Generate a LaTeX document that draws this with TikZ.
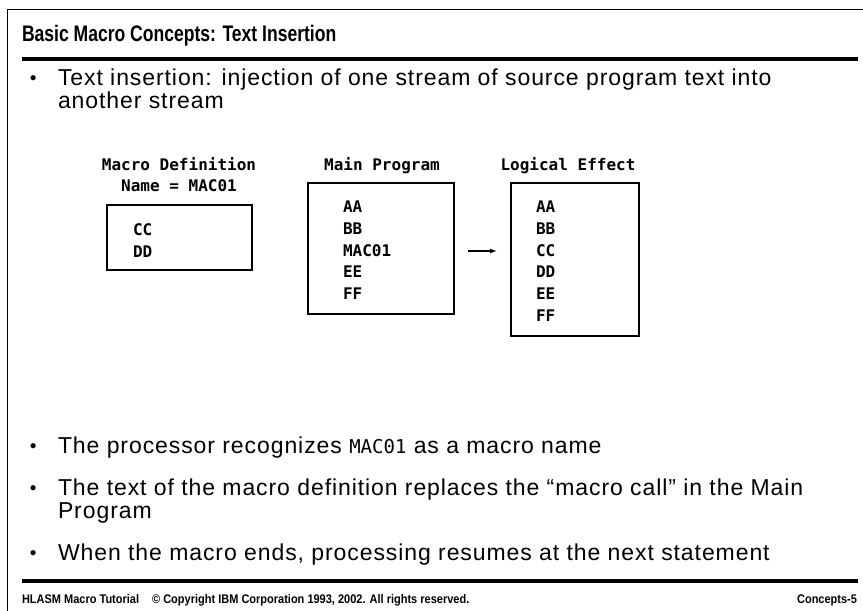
\documentclass[tikz,border=0pt]{standalone}
\usepackage{fontspec}
\usetikzlibrary{arrows.meta}
\setmainfont{Liberation Sans}
\newfontfamily\bodyfont[LetterSpace=4]{Liberation Sans}
\newfontfamily\titlefont[FakeStretch=0.78]{Liberation Sans}
\newfontfamily\footfont[FakeStretch=0.88]{Liberation Sans}
\newfontfamily\codefont{DejaVu Sans Mono}
\begin{document}
\begin{tikzpicture}[x=1pt,y=-1pt,
  txt/.style={anchor=base west,inner sep=0pt,outer sep=0pt},
  body/.style={txt,font=\bodyfont\fontsize{23}{27}\selectfont},
  code/.style={txt,font=\codefont\bfseries\fontsize{16}{19}\selectfont},
  codelbl/.style={anchor=base,inner sep=0pt,font=\codefont\bfseries\fontsize{16}{19}\selectfont},
  listbox/.style={draw,line width=1.1pt,inner sep=0pt,outer sep=0pt},
  foot/.style={txt,font=\footfont\bfseries\fontsize{12.5}{15}\selectfont},
  bul/.style={txt,font=\fontsize{19}{23}\selectfont}]
\useasboundingbox (0,0) rectangle (863,611);

% page frame and rules
\draw[line width=1pt] (7,611) -- (7,9) -- (863,9);
\draw[line width=4pt] (22,59) -- (858,59);
\draw[line width=4pt] (22,581) -- (858,581);

% title
\node[txt,font=\titlefont\bfseries\fontsize{22.5}{26}\selectfont] (title) at (22,41) {Basic Macro Concepts: Text Insertion};

% first bullet
\node[bul] (b1) at (30,84) {\textbullet};
\node[body] (t1a) at (58,85) {Text insertion: injection of one stream of source program text into};
\node[body] (t1b) at (58,108) {another stream};

% column headings
\node[codelbl] (hdef) at (179,170) {Macro Definition};
\node[codelbl] (hname) at (179,191) {Name = MAC01};
\node[codelbl] (hmain) at (382,170) {Main Program};
\node[codelbl] (hlog) at (568,170) {Logical Effect};

% boxes
\node[listbox, minimum width=145pt, minimum height=65pt] (defbox) at (179.5,237.5) {};
\node[code] (dcc) at (133,235) {CC};
\node[code] (ddd) at (133,257) {DD};

\node[listbox, minimum width=146pt, minimum height=131pt] (mainbox) at (381,248.5) {};
\node[code] (m1) at (343,212) {AA};
\node[code] (m2) at (343,234) {BB};
\node[code] (m3) at (343,256) {MAC01};
\node[code] (m4) at (343,277) {EE};
\node[code] (m5) at (343,299) {FF};

\node[listbox, minimum width=128pt, minimum height=153pt] (logbox) at (575,259.5) {};
\node[code] (l1) at (536,212) {AA};
\node[code] (l2) at (536,234) {BB};
\node[code] (l3) at (536,256) {CC};
\node[code] (l4) at (536,277) {DD};
\node[code] (l5) at (536,299) {EE};
\node[code] (l6) at (536,321) {FF};

% arrow between the program and its effect
\path (mainbox.east) ++(0,2.5) coordinate (arrs);
\draw[line width=1.3pt,-{Latex[length=7pt,width=5pt]},shorten <=14pt,shorten >=14pt]
  (arrs) -- (arrs -| logbox.west);

% remaining bullets
\node[bul] (b2) at (30,452) {\textbullet};
\node[body] (t2) at (58,453) {The processor recognizes {\codefont\fontsize{19}{22}\selectfont MAC01} as a macro name};
\node[bul] (b3) at (30,494) {\textbullet};
\node[body] (t3a) at (58,495) {The text of the macro definition replaces the \textquotedblleft macro call\textquotedblright\ in the Main};
\node[body] (t3b) at (58,518) {Program};
\node[bul] (b4) at (30,559) {\textbullet};
\node[body] (t4) at (58,560) {When the macro ends, processing resumes at the next statement};

% footer
\node[foot] (f1) at (22,603) {HLASM Macro Tutorial};
\node[foot,anchor=base west,xshift=13pt] (f2) at (f1.base east) {\textcopyright{} Copyright IBM Corporation 1993, 2002. All rights reserved.};
\node[foot,anchor=base east] (f3) at (857,603) {Concepts-5};
\end{tikzpicture}
\end{document}
